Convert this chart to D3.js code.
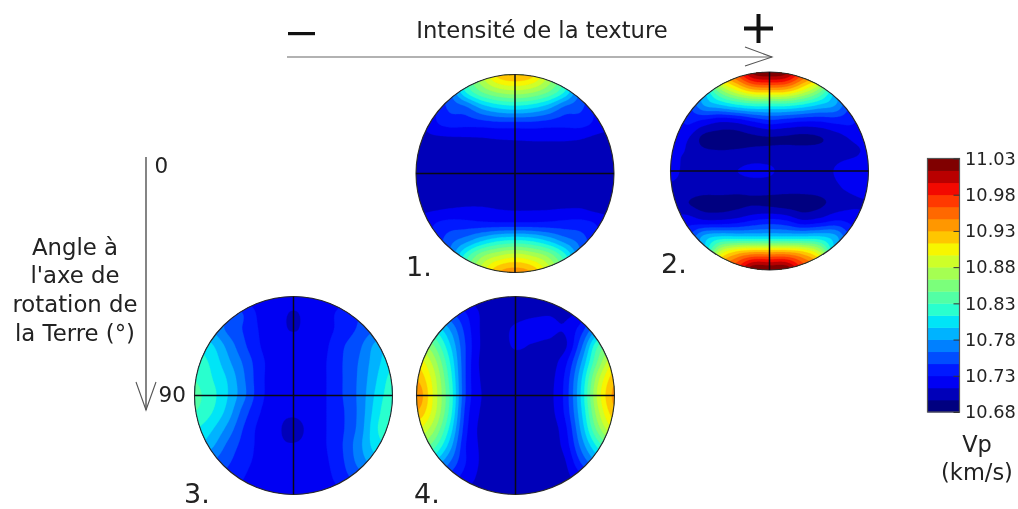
<!DOCTYPE html>
<html><head><meta charset="utf-8">
<script src="https://cdnjs.cloudflare.com/ajax/libs/d3/7.8.5/d3.min.js"></script>
<style>html,body{margin:0;padding:0;background:#fff}svg{display:block;filter:blur(0.45px)}text{font-family:"DejaVu Sans";fill:#222}</style>
</head><body><svg id="c" width="1018" height="509"></svg>
<script>
const vpDisk1 = [
[10.72,10.74,10.78,10.83,10.88,10.92,10.93,10.92,10.88,10.83,10.78,10.74,10.72],
[10.71,10.73,10.76,10.815,10.85,10.87,10.877,10.87,10.85,10.815,10.76,10.73,10.71],
[10.71,10.725,10.75,10.76,10.785,10.80,10.805,10.80,10.785,10.76,10.75,10.725,10.71],
[10.705,10.725,10.735,10.735,10.737,10.74,10.74,10.74,10.737,10.735,10.735,10.725,10.715],
[10.705,10.707,10.708,10.709,10.71,10.712,10.713,10.714,10.714,10.714,10.712,10.706,10.703],
[10.702,10.702,10.702,10.702,10.702,10.702,10.702,10.702,10.702,10.702,10.702,10.702,10.702],
[10.702,10.702,10.702,10.702,10.702,10.702,10.702,10.702,10.702,10.702,10.702,10.702,10.702],
[10.702,10.702,10.702,10.702,10.702,10.702,10.702,10.702,10.702,10.702,10.702,10.702,10.702],
[10.706,10.708,10.711,10.713,10.713,10.711,10.71,10.71,10.71,10.711,10.711,10.705,10.703],
[10.715,10.728,10.735,10.735,10.733,10.732,10.732,10.732,10.733,10.735,10.735,10.728,10.715],
[10.71,10.73,10.755,10.77,10.79,10.805,10.81,10.805,10.79,10.77,10.755,10.73,10.71],
[10.71,10.73,10.765,10.82,10.86,10.88,10.89,10.88,10.86,10.82,10.765,10.73,10.71],
[10.72,10.74,10.78,10.84,10.89,10.93,10.94,10.93,10.89,10.84,10.78,10.74,10.72]];
const vpDisk2 = [
[10.78,10.83,10.90,10.94,10.97,11.02,11.03,11.02,10.97,10.94,10.90,10.83,10.78],
[10.72,10.74,10.80,10.865,10.905,10.935,10.94,10.935,10.905,10.865,10.80,10.74,10.72],
[10.72,10.74,10.78,10.795,10.81,10.82,10.82,10.82,10.81,10.795,10.78,10.74,10.72],
[10.715,10.733,10.725,10.715,10.718,10.73,10.74,10.735,10.73,10.73,10.735,10.733,10.715],
[10.715,10.715,10.692,10.69,10.69,10.693,10.695,10.694,10.692,10.695,10.705,10.715,10.715],
[10.715,10.712,10.703,10.70,10.702,10.705,10.706,10.708,10.708,10.708,10.71,10.712,10.715],
[10.72,10.708,10.707,10.708,10.713,10.717,10.715,10.709,10.708,10.709,10.714,10.72,10.722],
[10.71,10.707,10.705,10.705,10.703,10.704,10.705,10.704,10.703,10.705,10.711,10.717,10.72],
[10.71,10.698,10.69,10.69,10.692,10.695,10.693,10.69,10.69,10.693,10.703,10.71,10.712],
[10.715,10.722,10.715,10.715,10.72,10.73,10.735,10.73,10.715,10.72,10.73,10.725,10.715],
[10.72,10.74,10.785,10.80,10.80,10.80,10.80,10.80,10.80,10.80,10.785,10.74,10.72],
[10.72,10.74,10.80,10.89,10.925,10.94,10.94,10.94,10.925,10.89,10.80,10.74,10.72],
[10.78,10.83,10.90,10.95,10.98,11.03,11.03,11.03,10.98,10.95,10.90,10.83,10.78]];
const vpDisk3 = [
[10.74,10.74,10.73,10.725,10.72,10.72,10.72,10.72,10.72,10.725,10.73,10.74,10.75],
[10.77,10.77,10.76,10.745,10.725,10.718,10.7125,10.718,10.725,10.735,10.745,10.76,10.77],
[10.79,10.78,10.76,10.745,10.728,10.718,10.7125,10.718,10.725,10.737,10.75,10.765,10.78],
[10.81,10.80,10.775,10.75,10.73,10.718,10.72,10.716,10.728,10.745,10.76,10.785,10.80],
[10.825,10.81,10.785,10.76,10.735,10.72,10.718,10.716,10.73,10.747,10.765,10.79,10.81],
[10.83,10.815,10.795,10.765,10.735,10.72,10.718,10.717,10.73,10.747,10.767,10.795,10.82],
[10.835,10.82,10.797,10.767,10.735,10.72,10.718,10.718,10.73,10.747,10.768,10.80,10.825],
[10.83,10.815,10.79,10.755,10.73,10.718,10.716,10.72,10.73,10.745,10.768,10.805,10.83],
[10.815,10.80,10.775,10.745,10.725,10.716,10.708,10.718,10.73,10.745,10.77,10.81,10.83],
[10.80,10.785,10.76,10.74,10.725,10.716,10.714,10.718,10.73,10.747,10.775,10.805,10.815],
[10.78,10.765,10.75,10.735,10.725,10.717,10.716,10.718,10.728,10.745,10.77,10.79,10.80],
[10.76,10.75,10.74,10.73,10.722,10.718,10.718,10.718,10.725,10.74,10.755,10.77,10.78],
[10.74,10.74,10.73,10.725,10.72,10.718,10.718,10.718,10.72,10.73,10.74,10.75,10.76]];
const vpDisk4 = [
[10.74,10.73,10.72,10.71,10.705,10.705,10.705,10.705,10.705,10.705,10.72,10.73,10.74],
[10.78,10.77,10.75,10.73,10.71,10.705,10.707,10.71,10.712,10.71,10.72,10.76,10.78],
[10.84,10.815,10.78,10.74,10.71,10.708,10.716,10.72,10.718,10.715,10.74,10.785,10.82],
[10.88,10.85,10.80,10.745,10.71,10.707,10.715,10.712,10.709,10.71,10.76,10.83,10.86],
[10.91,10.875,10.815,10.745,10.708,10.705,10.706,10.706,10.706,10.725,10.78,10.85,10.90],
[10.93,10.89,10.825,10.745,10.71,10.705,10.705,10.705,10.707,10.733,10.795,10.875,10.925],
[10.945,10.895,10.83,10.745,10.712,10.705,10.705,10.705,10.708,10.735,10.80,10.885,10.935],
[10.93,10.89,10.825,10.74,10.71,10.705,10.705,10.705,10.707,10.733,10.795,10.875,10.925],
[10.90,10.87,10.81,10.735,10.708,10.705,10.705,10.705,10.705,10.725,10.785,10.855,10.90],
[10.865,10.84,10.79,10.73,10.71,10.705,10.705,10.705,10.705,10.72,10.77,10.82,10.86],
[10.83,10.80,10.765,10.73,10.71,10.705,10.705,10.705,10.705,10.712,10.75,10.785,10.82],
[10.78,10.76,10.74,10.722,10.708,10.705,10.705,10.705,10.705,10.708,10.725,10.75,10.77],
[10.74,10.73,10.72,10.71,10.705,10.705,10.705,10.705,10.705,10.705,10.71,10.72,10.74]];

const diskNames = ["1.","2.","3.","4."];
const diskGrids = [vpDisk1,vpDisk2,vpDisk3,vpDisk4];
const diskCx = [515,769.5,293.5,515.5];
const diskCy = [173.5,171,395.5,395.5];
const diskLabelX = [406,661,184,414];
const diskLabelY = [276,273,502.5,502.5];
const diskR = 99;

const vpMin = 10.68, vpMax = 11.03, bandCount = 21;
const levels = d3.range(bandCount+1).map(i=>vpMin+(vpMax-vpMin)*i/bandCount);
const tickValues = [10.68,10.73,10.78,10.83,10.88,10.93,10.98,11.03];

const svg = d3.select("#c");
const jetR = d3.scaleLinear().domain([0,.35,.66,.89,1]).range([0,0,1,1,.5]).clamp(true);
const jetG = d3.scaleLinear().domain([0,.125,.375,.64,.91,1]).range([0,0,1,1,0,0]).clamp(true);
const jetB = d3.scaleLinear().domain([0,.11,.34,.65,1]).range([.5,1,1,0,0]).clamp(true);
const jet = t=>d3.rgb(jetR(t)*255,jetG(t)*255,jetB(t)*255).formatHex();
const bandColor = i=>jet(i/(bandCount-1));

// smooth rendering of the read grid (Catmull-Rom)
const cr=(a,b,c,d,t)=>0.5*((2*b)+(-a+c)*t+(2*a-5*b+4*c-d)*t*t+(-a+3*b-3*c+d)*t*t*t);
function refine(g,f){
  const n=g.length, m=(n-1)*f+1, out=new Array(m*m);
  const at=(r,c)=>g[Math.max(0,Math.min(n-1,r))][Math.max(0,Math.min(n-1,c))];
  for(let j=0;j<m;j++){const rj=j/f,r0=Math.min(n-2,Math.floor(rj)),tr=rj-r0;
    for(let i=0;i<m;i++){const ci=i/f,c0=Math.min(n-2,Math.floor(ci)),tc=ci-c0;
      const row=k=>cr(at(r0+k,c0-1),at(r0+k,c0),at(r0+k,c0+1),at(r0+k,c0+2),tc);
      out[j*m+i]=cr(row(-1),row(0),row(1),row(2),tr);}}
  return {values:out,size:m};
}

diskGrids.forEach((grid,k)=>{
  const cx=diskCx[k],cy=diskCy[k],r=diskR;
  const {values,size}=refine(grid,10);
  const px=d3.scaleLinear().domain([0.5,size-0.5]).range([cx-r,cx+r]);
  const py=d3.scaleLinear().domain([0.5,size-0.5]).range([cy-r,cy+r]);
  const path=d3.geoPath(d3.geoTransform({point(x,y){this.stream.point(px(x),py(y));}}));
  const cid="clip"+k;
  svg.append("clipPath").attr("id",cid).append("circle").attr("cx",cx).attr("cy",cy).attr("r",r);
  const g=svg.append("g");
  const layer=g.append("g").attr("clip-path",`url(#${cid})`);
  layer.append("circle").attr("cx",cx).attr("cy",cy).attr("r",r).attr("fill",bandColor(0));
  const cs=d3.contours().size([size,size]).thresholds(levels.slice(1,-1))(values);
  layer.selectAll("path").data(cs).join("path")
    .attr("d",path).attr("fill",(d,i)=>bandColor(i+1)).attr("stroke",(d,i)=>bandColor(i+1)).attr("stroke-width",.3);
  g.append("circle").attr("cx",cx).attr("cy",cy).attr("r",r).attr("fill","none").attr("stroke","#2a2a2a").attr("stroke-width",1.1);
  g.append("line").attr("x1",cx-r).attr("x2",cx+r).attr("y1",cy).attr("y2",cy).attr("stroke","#0a0a14").attr("stroke-width",1.5);
  g.append("line").attr("x1",cx).attr("x2",cx).attr("y1",cy-r).attr("y2",cy+r).attr("stroke","#0a0a14").attr("stroke-width",1.5);
  svg.append("text").attr("x",diskLabelX[k]).attr("y",diskLabelY[k]).attr("font-size",27).text(diskNames[k]);
});

// colour bar
const cbX0=927.5,cbX1=959.5,cbTop=158.5,cbBot=412;
const cbY=d3.scaleLinear().domain([vpMin,vpMax]).range([cbBot,cbTop]);
svg.append("g").selectAll("rect").data(d3.range(bandCount)).join("rect")
  .attr("x",cbX0).attr("width",cbX1-cbX0)
  .attr("y",i=>cbY(levels[i+1])).attr("height",i=>cbY(levels[i])-cbY(levels[i+1])+.4)
  .attr("fill",bandColor);
svg.append("rect").attr("x",cbX0).attr("y",cbTop).attr("width",cbX1-cbX0).attr("height",cbBot-cbTop)
  .attr("fill","none").attr("stroke","#555").attr("stroke-width",1.2);
const axis=d3.axisRight(cbY).tickValues(tickValues).tickFormat(d3.format(".2f")).tickSizeInner(-6).tickSizeOuter(0).tickPadding(5.5);
const ax=svg.append("g").attr("transform",`translate(${cbX1},0)`).call(axis);
ax.select(".domain").remove();
ax.selectAll("line").attr("stroke","#333");
ax.selectAll("text").attr("font-size",17.8).attr("font-family","DejaVu Sans").attr("fill","#222");
svg.append("text").attr("x",977).attr("y",452).attr("text-anchor","middle").attr("font-size",22.5).text("Vp");
svg.append("text").attr("x",977).attr("y",480).attr("text-anchor","middle").attr("font-size",22.5).text("(km/s)");

// arrows and annotation
const arrow=[[287,57,772,57,[[745,47],[772,57],[745,66]],1.2],[146,157,146,410,[[136,382],[146,410],[156,382]],1.6]];
arrow.forEach(a=>{
  svg.append("line").attr("x1",a[0]).attr("y1",a[1]).attr("x2",a[2]).attr("y2",a[3]).attr("stroke","#666").attr("stroke-width",a[5]);
  svg.append("path").attr("d",d3.line()(a[4])).attr("fill","none").attr("stroke","#555").attr("stroke-width",1.1);
});
svg.append("text").attr("x",542).attr("y",38).attr("text-anchor","middle").attr("font-size",22.7).text("Intensité de la texture");
svg.append("rect").attr("x",288).attr("y",32).attr("width",27).attr("height",3.2).attr("fill","#111");
svg.append("rect").attr("x",744).attr("y",26.5).attr("width",29).attr("height",4).attr("fill","#111");
svg.append("rect").attr("x",756.5).attr("y",14).attr("width",4).attr("height",29).attr("fill","#111");
svg.append("text").attr("x",154.5).attr("y",172.5).attr("font-size",21.5).text("0");
svg.append("text").attr("x",158.5).attr("y",401.5).attr("font-size",21.5).text("90");
const sideLines=["Angle à","l'axe de","rotation de","la Terre (°)"];
const sideY=[255,283,312,341];
sideLines.forEach((t,i)=>svg.append("text").attr("x",75).attr("y",sideY[i]).attr("text-anchor","middle").attr("font-size",22.8).text(t));
</script></body></html>
